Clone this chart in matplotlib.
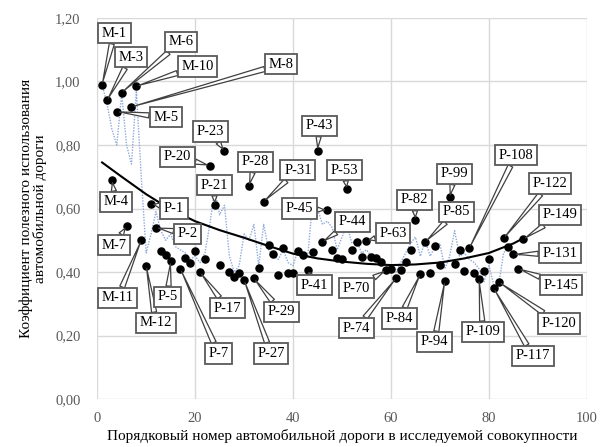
import matplotlib
matplotlib.use("Agg")
import matplotlib.pyplot as plt
from matplotlib.ticker import FuncFormatter, MultipleLocator

plt.rcParams['font.family'] = ['Liberation Serif', 'DejaVu Serif']

# порядковый номер дороги и коэффициент
road_x = [1, 2, 3, 4, 5, 6, 7, 8, 9, 10,
          11, 12, 13, 14, 15, 17, 18, 19, 20, 21,
          22, 23, 24, 25, 26, 27, 28, 29, 30, 31,
          32, 33, 34, 35, 36, 37, 38, 39, 40, 41,
          42, 43, 44, 45, 46, 47, 48, 49, 50, 51,
          52, 53, 54, 55, 56, 57, 58, 59, 60, 61,
          62, 63, 64, 65, 66, 67, 68, 69, 70, 71,
          72, 73, 74, 75, 76, 77, 78, 79, 80, 81,
          82, 83, 84, 85, 86, 87]
road_k = [0.99, 0.94, 0.69, 0.905, 0.965, 0.545, 0.92, 0.985, 0.50, 0.42,
          0.615, 0.54, 0.465, 0.455, 0.435, 0.41, 0.445, 0.43, 0.465, 0.40,
          0.44, 0.735, 0.612, 0.422, 0.78, 0.40, 0.385, 0.396, 0.375, 0.67,
          0.38, 0.413, 0.622, 0.486, 0.458, 0.39, 0.476, 0.396, 0.398, 0.467,
          0.453, 0.406, 0.464, 0.782, 0.495, 0.595, 0.47, 0.444, 0.44, 0.66,
          0.47, 0.494, 0.449, 0.499, 0.448, 0.443, 0.433, 0.406, 0.41, 0.38,
          0.406, 0.432, 0.469, 0.564, 0.394, 0.495, 0.396, 0.482, 0.422, 0.372,
          0.635, 0.425, 0.471, 0.404, 0.475, 0.398, 0.377, 0.404, 0.44, 0.349,
          0.369, 0.506, 0.48, 0.456, 0.411, 0.503]

# голубая пунктирная линия
blue_x = list(range(1, 88))
blue_k = [0.99, 0.93, 0.85, 0.80, 0.96, 0.80, 0.74, 0.97, 0.70, 0.46,
          0.52, 0.59, 0.53, 0.50, 0.52, 0.48, 0.47, 0.46, 0.44, 0.45,
          0.43, 0.46, 0.55, 0.66, 0.58, 0.61, 0.45, 0.40, 0.42, 0.52,
          0.50, 0.55, 0.42, 0.55, 0.47, 0.45, 0.44, 0.47, 0.43, 0.42,
          0.47, 0.44, 0.45, 0.62, 0.60, 0.55, 0.56, 0.54, 0.47, 0.51,
          0.55, 0.49, 0.50, 0.46, 0.47, 0.45, 0.44, 0.43, 0.42, 0.41,
          0.40, 0.43, 0.46, 0.49, 0.51, 0.45, 0.50, 0.45, 0.48, 0.49,
          0.41, 0.45, 0.53, 0.45, 0.46, 0.44, 0.43, 0.41, 0.37, 0.42,
          0.36, 0.36, 0.46, 0.48, 0.46, 0.45, 0.46]

# линия тренда
trend_x = [1, 5, 10, 15, 20, 25, 30, 35, 40, 45, 50, 55, 60, 65, 70, 75, 80, 85, 87]
trend_k = [0.745, 0.70, 0.645, 0.597, 0.56, 0.532, 0.508, 0.482, 0.458, 0.443,
           0.433, 0.426, 0.422, 0.424, 0.43, 0.443, 0.46, 0.49, 0.506]

# подписи: текст, номер точки
label_text = ['M-1', 'M-3', 'M-4', 'M-5', 'M-6', 'M-7', 'M-8', 'M-10', 'M-11', 'M-12',
              'P-1', 'P-2', 'P-5', 'P-7', 'P-17', 'P-20', 'P-21', 'P-23', 'P-27', 'P-28',
              'P-29', 'P-31', 'P-41', 'P-43', 'P-44', 'P-45', 'P-53', 'P-63', 'P-70', 'P-74',
              'P-82', 'P-84', 'P-85', 'P-94', 'P-99', 'P-108', 'P-109', 'P-117', 'P-120', 'P-122',
              'P-131', 'P-145', 'P-149']
label_at = [1, 2, 3, 4, 5, 6, 7, 8, 9, 10,
            11, 12, 15, 17, 21, 23, 24, 26, 30, 31,
            32, 34, 43, 45, 46, 47, 51, 55, 59, 61,
            65, 66, 67, 71, 72, 76, 78, 81, 82, 83,
            85, 86, 87]
# где стоят рамки подписей (координаты графика)
label_pos = [(3.5, 1.152), (6.9, 1.076), (3.8, 0.621), (14.0, 0.887), (17.1, 1.125),
             (3.5, 0.485), (37.6, 1.054), (20.5, 1.047), (4.2, 0.319), (12.0, 0.24),
             (15.7, 0.60), (18.5, 0.52), (14.4, 0.322), (24.8, 0.144), (26.6, 0.286),
             (16.4, 0.763), (23.9, 0.674), (23.2, 0.842), (35.5, 0.144), (32.3, 0.747),
             (37.6, 0.275), (41.0, 0.721), (44.4, 0.359), (45.4, 0.86), (52.1, 0.558),
             (41.3, 0.60), (50.5, 0.721), (60.4, 0.522), (53.0, 0.349), (53.0, 0.223),
             (64.8, 0.627), (61.8, 0.254), (73.4, 0.59), (68.9, 0.18), (73.0, 0.709),
             (85.5, 0.768), (78.8, 0.212), (89.0, 0.136), (94.3, 0.238), (92.4, 0.679),
             (94.5, 0.459), (94.8, 0.359), (94.5, 0.58)]

fig = plt.figure(figsize=(6.0, 4.47), dpi=100)
ax = fig.add_axes([0.162, 0.107, 0.816, 0.853])

ax.plot(blue_x, blue_k, color='#8EA9DB', lw=1.0, ls=(0, (1, 1)), zorder=2)
ax.scatter(road_x, road_k, s=26, color='black', zorder=3)
ax.plot(trend_x, trend_k, color='black', lw=1.5, zorder=3)

lookup = dict(zip(road_x, road_k))
for txt, n, pos in zip(label_text, label_at, label_pos):
    ax.annotate(txt, xy=(n, lookup[n]), xytext=pos, ha='center', va='center',
                fontsize=10.5, color='black', zorder=5,
                bbox=dict(boxstyle='square,pad=0.25', fc='white', ec='#595959', lw=1.3),
                arrowprops=dict(arrowstyle='wedge,tail_width=0.35,shrink_factor=0.5',
                                fc='white', ec='#404040', lw=0.9,
                                shrinkA=0, shrinkB=2))

ax.set_xlim(0, 100)
ax.set_ylim(0, 1.2)
ax.xaxis.set_major_locator(MultipleLocator(20))
ax.yaxis.set_major_locator(MultipleLocator(0.2))
ax.yaxis.set_major_formatter(FuncFormatter(lambda v, p: f'{v:.2f}'.replace('.', ',')))
ax.grid(True, color='#D9D9D9', lw=1.0)
ax.set_axisbelow(True)
for s in ax.spines.values():
    s.set_visible(False)
ax.tick_params(length=0, labelsize=10.5, colors='#595959')
ax.tick_params(axis='y', pad=12)
ax.tick_params(axis='x', pad=9)

ax.set_xlabel('Порядковый номер автомобильной дороги в исследуемой совокупности',
              fontsize=11, labelpad=3)
ax.set_ylabel('Коэффициент полезного использования\nавтомобильной дороги',
              fontsize=11, labelpad=6, linespacing=1.0)

fig.savefig('out.png', dpi=100)
